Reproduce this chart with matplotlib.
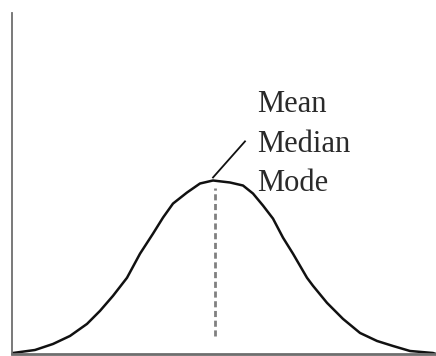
import matplotlib.pyplot as plt

# curve points (x from left axis, height above baseline, in pixels)
curve_x = [1, 23, 41, 58, 75, 88, 101, 115, 128, 141, 151, 161, 175, 188, 201,
           218, 231, 241, 251, 261, 271, 281, 295, 301, 315, 331, 348, 365, 381,
           398, 421, 424]
curve_y = [1, 4, 10, 18, 30, 43, 58, 76, 100, 120, 136, 150, 161, 170, 173,
           171, 168, 160, 148, 135, 116, 100, 76, 68, 51, 35, 21, 13, 8,
           3, 1, 0]

centre_x = 203          # mean = median = mode
centre_top = 166
centre_bottom = 18

labels = ["Mean", "Median", "Mode"]
label_y = [241, 201, 163]

fig = plt.figure(figsize=(4.36, 3.56), dpi=100)
ax = fig.add_axes([12 / 436, 2 / 356, 1 - 12 / 436, 1 - 15 / 356])
ax.set_xlim(0, 424)
ax.set_ylim(0, 340)

ax.plot(curve_x, curve_y, color="#111111", lw=1.8, solid_joinstyle="round")
ax.plot([centre_x, centre_x], [centre_bottom, centre_top], color="#808080",
        lw=2.0, linestyle=(0, (2.2, 1.3)))

# leader line to the peak
ax.plot([233, 201], [212, 176], color="#111111", lw=1.3)

for lab, yy in zip(labels, label_y):
    ax.text(245, yy, lab, fontsize=22, family="Liberation Serif",
            color="#2a2a2a", va="baseline", ha="left")

for side in ["top", "right"]:
    ax.spines[side].set_visible(False)
ax.spines["left"].set_color("#6e6e6e")
ax.spines["left"].set_linewidth(1.3)
ax.spines["bottom"].set_color("#6e6e6e")
ax.spines["bottom"].set_linewidth(2.0)
ax.set_xticks([])
ax.set_yticks([])

fig.savefig("out.png", dpi=100)
